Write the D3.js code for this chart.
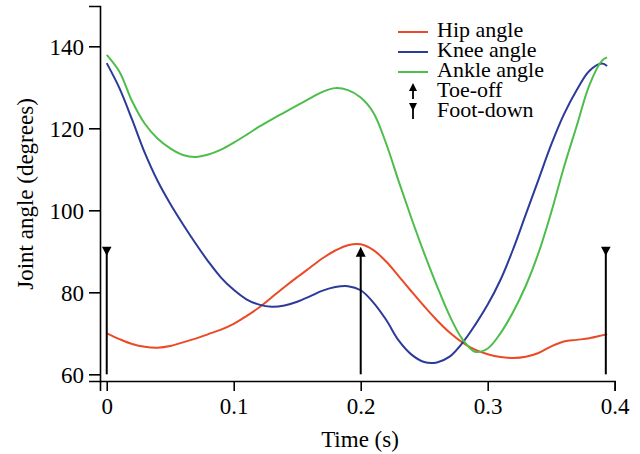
<!DOCTYPE html>
<html><head><meta charset="utf-8">
<script src="https://cdn.jsdelivr.net/npm/d3@7"></script>
<style>
html,body{margin:0;padding:0;background:#fff;}
svg text{font-family:"Liberation Serif","Times New Roman",serif;}
</style></head>
<body><svg id="c" width="640" height="454"></svg>
<script>
const times = [0, 0.01, 0.02, 0.03, 0.04, 0.05, 0.06, 0.07, 0.08, 0.09, 0.10, 0.11, 0.12, 0.13, 0.14, 0.15, 0.16, 0.17, 0.18, 0.19, 0.20,
               0.21, 0.22, 0.23, 0.24, 0.25, 0.26, 0.27, 0.28, 0.29, 0.30, 0.31, 0.32, 0.33, 0.34, 0.35, 0.36, 0.37, 0.38, 0.39, 0.394];
const hipAngle = [70.0, 68.6, 67.4, 66.7, 66.5, 66.9, 67.8, 68.7, 69.8, 70.9, 72.3, 74.2, 76.3, 78.8, 81.3, 83.7, 86.0, 88.3, 90.2, 91.5, 91.7,
                  90.3, 87.5, 83.9, 80.2, 76.6, 73.2, 70.2, 67.8, 66.0, 64.9, 64.2, 64.0, 64.3, 65.2, 66.8, 68.0, 68.4, 68.8, 69.5, 69.8];
const kneeAngle = [135.9, 129.8, 122.1, 114.0, 107.2, 101.6, 96.6, 91.9, 87.5, 83.6, 80.6, 78.3, 77.0, 76.5, 76.8, 77.7, 79.0, 80.4, 81.3, 81.5, 80.5,
                   77.5, 73.3, 68.2, 64.8, 63.0, 62.9, 64.3, 67.6, 72.0, 77.0, 83.0, 90.5, 99.0, 107.5, 116.0, 123.4, 129.3, 134.0, 135.8, 135.2];
const ankleAngle = [137.9, 133.8, 126.6, 121.1, 117.5, 115.1, 113.5, 113.0, 113.6, 114.8, 116.5, 118.4, 120.4, 122.2, 123.9, 125.6, 127.3, 128.9, 129.8, 129.3, 127.5,
                    123.8, 116.3, 107.0, 98.0, 89.5, 81.6, 74.3, 68.6, 65.5, 66.3, 70.0, 75.2, 81.6, 89.6, 99.5, 110.5, 120.5, 130.5, 136.5, 137.3];
const seriesNames = ["Hip angle", "Knee angle", "Ankle angle"];
const seriesColors = ["#ea4a25", "#2c3a98", "#4dbd4b"];
const eventTimes = [0, 0.2, 0.393];
const eventTypes = ["down", "up", "down"];
const eventTop = 91.1, eventBottom = 60;
const xTicks = [0, 0.1, 0.2, 0.3, 0.4];
const yTicks = [60, 80, 100, 120, 140];
const legendMarkers = ["Toe-off", "Foot-down"];

const svg = d3.select("#c");
const x = d3.scaleLinear().domain([-0.0053, 0.4]).range([100, 614.7]);
const y = d3.scaleLinear().domain([58.37, 149.83]).range([381, 6]);

const xAxis = svg.append("g").attr("transform", `translate(0,${y(58.37)})`)
  .call(d3.axisBottom(x).tickValues(xTicks).tickSizeOuter(0).tickSize(10).tickPadding(7)
    .tickFormat(d => d === 0 ? "0" : d3.format(".1f")(d)));
const yAxis = svg.append("g").attr("transform", `translate(${x(-0.0053)},0)`)
  .call(d3.axisLeft(y).tickValues(yTicks).tickSizeOuter(0).tickSize(11).tickPadding(5));
[xAxis, yAxis].forEach(g => {
  g.selectAll("path,line").attr("stroke", "#000").attr("stroke-width", 1.6);
  g.selectAll("text").attr("font-size", 23).attr("fill", "#000")
   .attr("font-family", '"Liberation Serif", serif');
});
yAxis.selectAll("text").attr("dy", "0.34em");

svg.append("text").attr("x", 360).attr("y", 447).attr("text-anchor", "middle")
  .attr("font-size", 23).text("Time (s)");
svg.append("text").attr("transform", "translate(33,194) rotate(-90)").attr("text-anchor", "middle")
  .attr("font-size", 23).text("Joint angle (degrees)");

const seriesValues = [hipAngle, kneeAngle, ankleAngle];
const line = d3.line().x(d => x(d[0])).y(d => y(d[1])).curve(d3.curveCatmullRom.alpha(0.5));
seriesValues.forEach((vals, i) => {
  const pts = times.map((t, j) => [t, vals[j]]);
  svg.append("path").attr("d", line(pts)).attr("fill", "none")
    .attr("stroke", seriesColors[i]).attr("stroke-width", 2);
});

// events
eventTimes.forEach((t, i) => {
  const cx = x(t), yt = y(eventTop), yb = y(eventBottom);
  if (eventTypes[i] === "down") {
    svg.append("line").attr("x1", cx).attr("x2", cx).attr("y1", yt + 2).attr("y2", yb)
      .attr("stroke", "#000").attr("stroke-width", 2);
    svg.append("path").attr("d", `M${cx-4.8},${yt}L${cx+4.8},${yt}L${cx},${yt+9}Z`).attr("fill", "#000");
  } else {
    svg.append("line").attr("x1", cx).attr("x2", cx).attr("y1", yt + 6).attr("y2", yb)
      .attr("stroke", "#000").attr("stroke-width", 2);
    svg.append("path").attr("d", `M${cx},${yt}L${cx+5},${yt+10}L${cx-5},${yt+10}Z`).attr("fill", "#000");
  }
});

// legend
const lg = svg.append("g");
seriesNames.forEach((n, i) => {
  const yy = 32 + i * 20;
  lg.append("line").attr("x1", 398).attr("x2", 428).attr("y1", yy).attr("y2", yy)
    .attr("stroke", seriesColors[i]).attr("stroke-width", 2);
  lg.append("text").attr("x", 437).attr("y", yy + 4.5).attr("font-size", 22).text(n);
});
legendMarkers.forEach((n, i) => {
  const yy = 92 + i * 20, cx = 413;
  if (i === 0) {
    lg.append("line").attr("x1", cx).attr("x2", cx).attr("y1", yy - 3).attr("y2", yy + 7).attr("stroke", "#000").attr("stroke-width", 1.8);
    lg.append("path").attr("d", `M${cx},${yy-9}L${cx+4},${yy-1}L${cx-4},${yy-1}Z`).attr("fill", "#000");
  } else {
    lg.append("line").attr("x1", cx).attr("x2", cx).attr("y1", yy - 7).attr("y2", yy + 7).attr("stroke", "#000").attr("stroke-width", 1.8);
    lg.append("path").attr("d", `M${cx-4},${yy-9}L${cx+4},${yy-9}L${cx},${yy-1}Z`).attr("fill", "#000");
  }
  lg.append("text").attr("x", 437).attr("y", yy + 4.5).attr("font-size", 22).text(n);
});
</script></body></html>
